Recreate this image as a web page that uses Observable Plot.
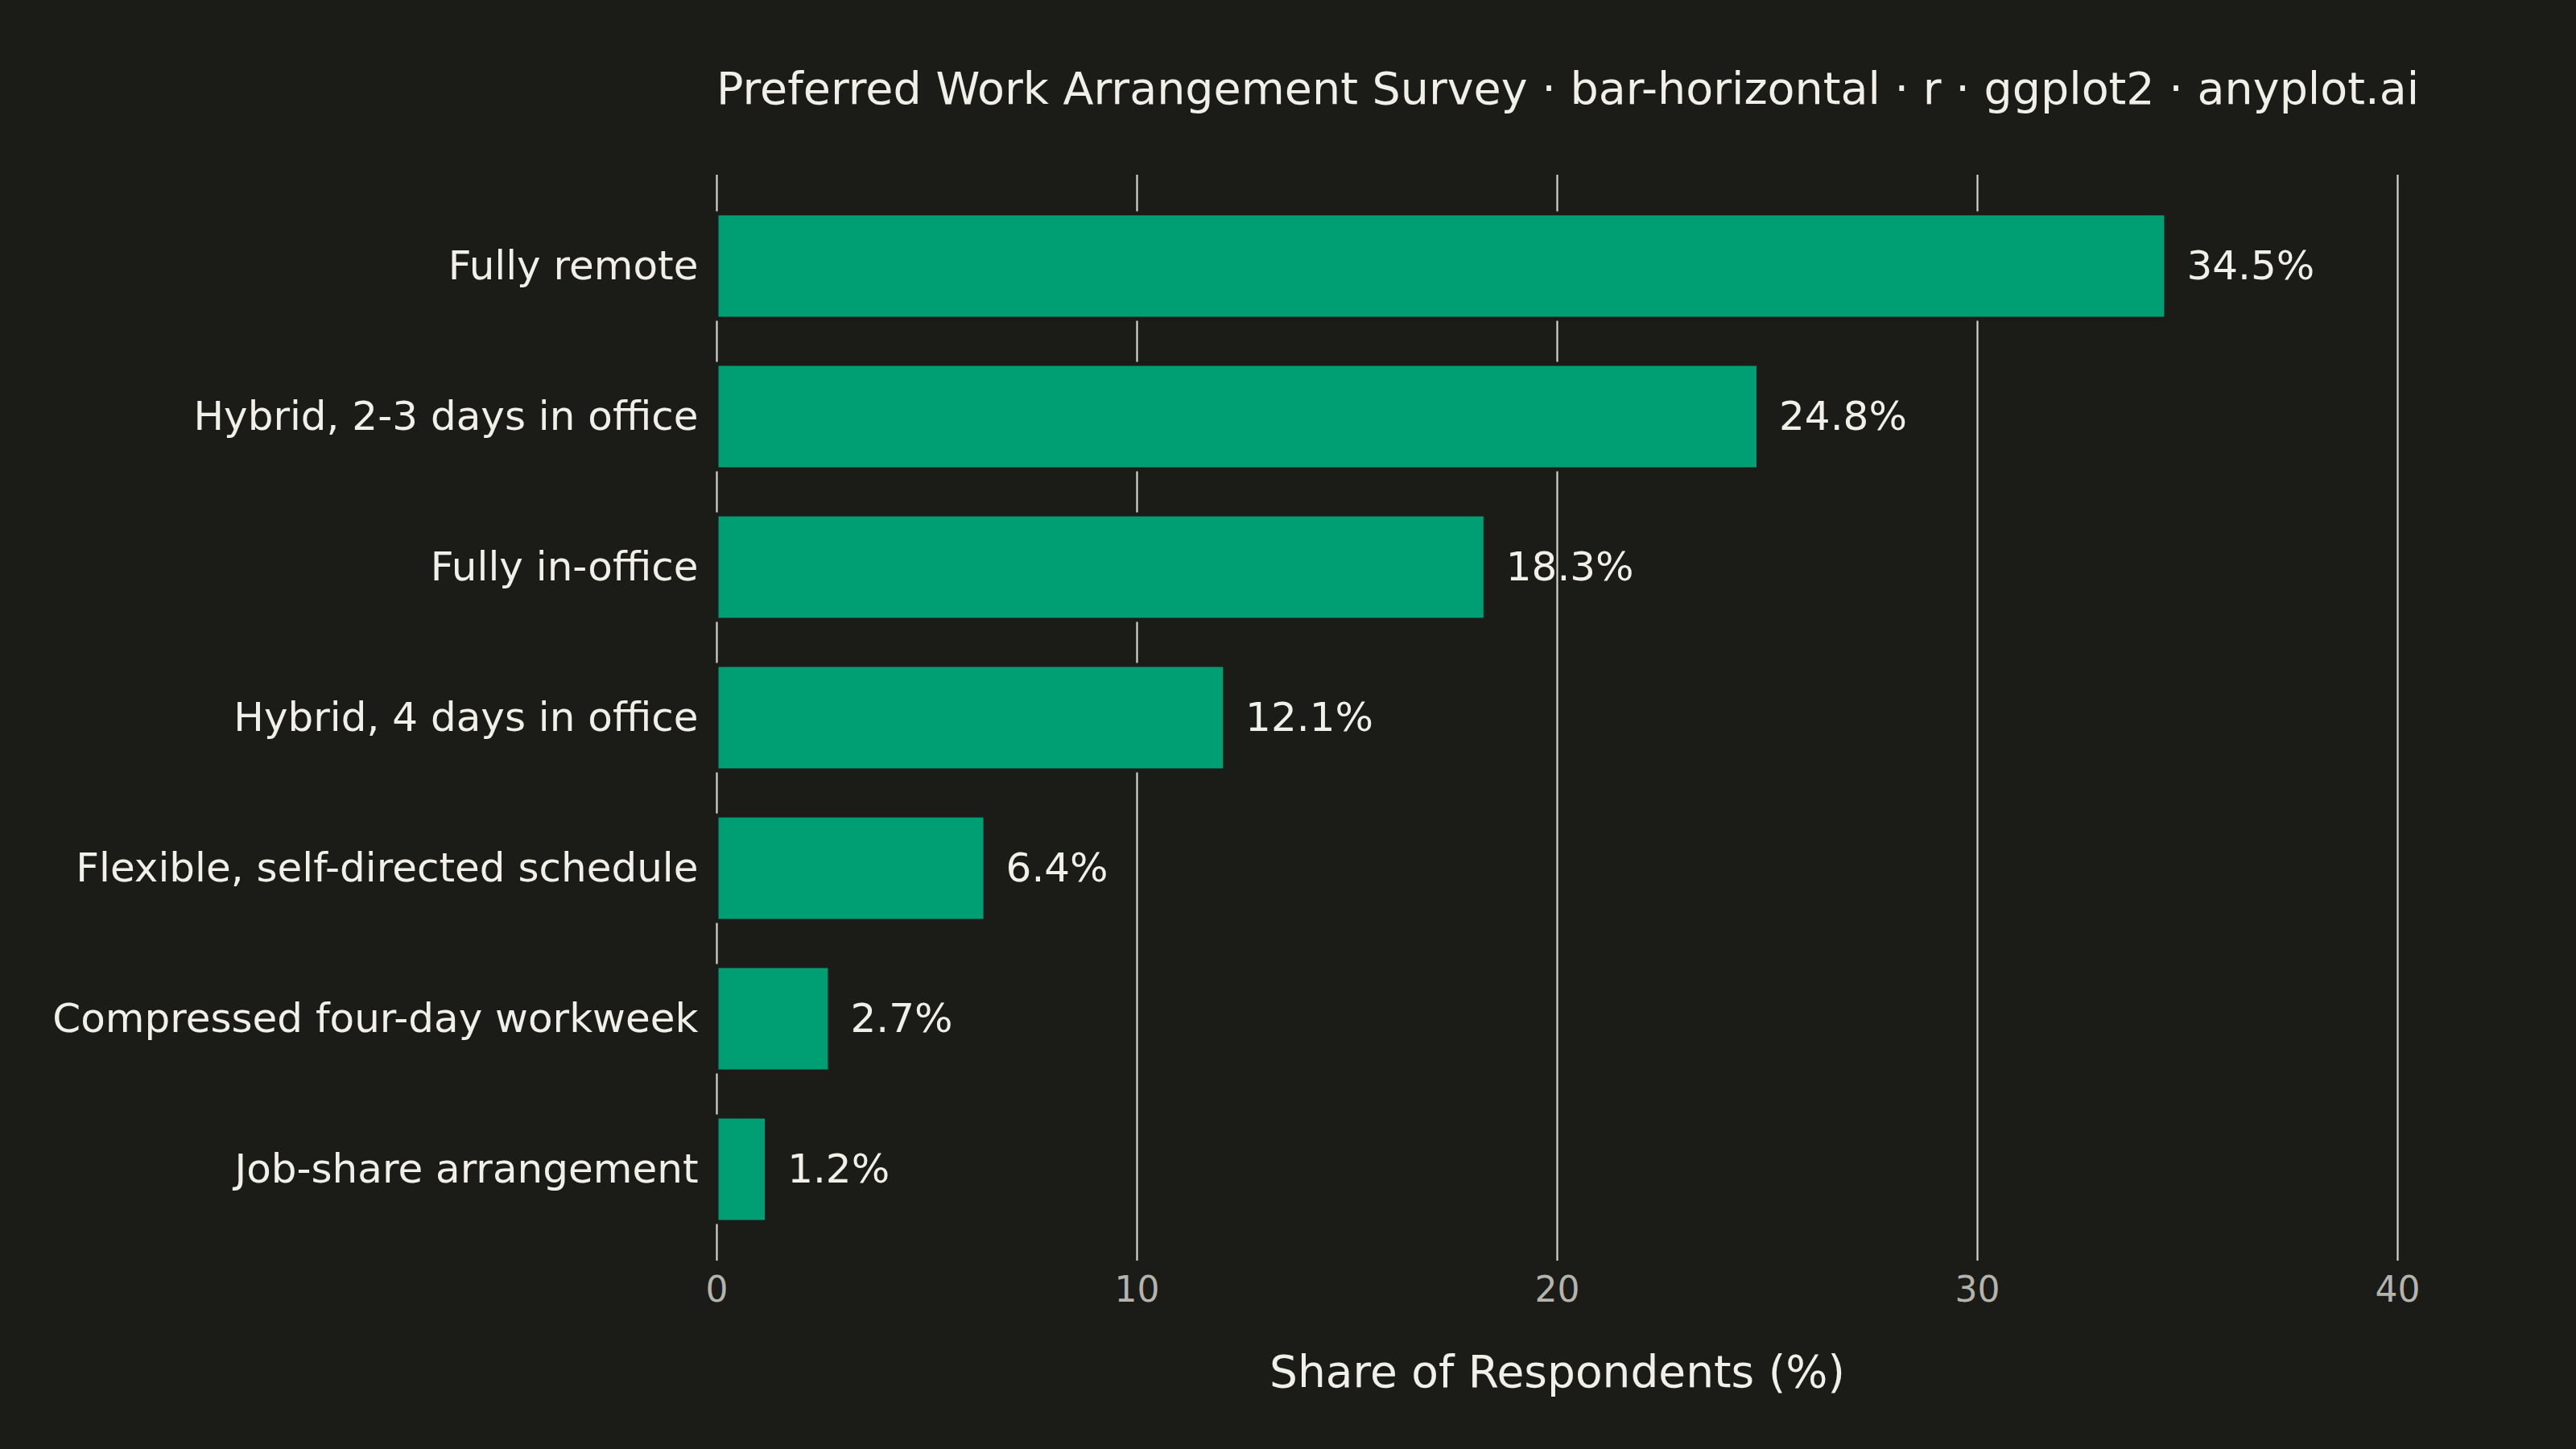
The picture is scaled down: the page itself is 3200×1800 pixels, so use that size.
<!DOCTYPE html>
<html>
<head>
<meta charset="utf-8">
<script src="https://cdn.jsdelivr.net/npm/d3@7"></script>
<script src="https://cdn.jsdelivr.net/npm/@observablehq/plot@0.6"></script>
<style>
  html, body { margin: 0; padding: 0; background: #1b1b18; }
  #wrap { width: 3200px; height: 1800px; background: #1b1b18; position: relative; overflow: hidden; }
  #title { position: absolute; left: 890px; top: 82px; font-family: "DejaVu Sans", sans-serif; font-size: 55.5px; line-height: 55.5px; color: #F0EFE8; white-space: nowrap; }
  #chart { position: absolute; left: 0; top: 180px; }
</style>
</head>
<body>
<div id="wrap">
  <div id="title">Preferred Work Arrangement Survey · bar-horizontal · r · ggplot2 · anyplot.ai</div>
  <div id="chart"></div>
</div>
<script>
const categories = [
  "Fully remote",
  "Hybrid, 2-3 days in office",
  "Fully in-office",
  "Hybrid, 4 days in office",
  "Flexible, self-directed schedule",
  "Compressed four-day workweek",
  "Job-share arrangement"
];
const shares = [34.5, 24.8, 18.3, 12.1, 6.4, 2.7, 1.2];
const xTicks = [0, 10, 20, 30, 40];
const xLabel = "Share of Respondents (%)";

const data = categories.map((c, i) => ({category: c, value: shares[i]}));

const bg = "#1b1b18";
const ink = "#F0EFE8";
const muted = "#B5B4AC";

const plot = Plot.plot({
  width: 3200,
  height: 1620,
  marginTop: 37,
  marginBottom: 234,
  marginLeft: 890,
  marginRight: 222,
  style: {background: bg, color: ink, fontFamily: "DejaVu Sans, sans-serif"},
  x: {domain: [0, 40]},
  y: {domain: categories, paddingInner: 0.3, paddingOuter: 0.25, align: 0.5},
  marks: [
    Plot.ruleX(xTicks, {stroke: "#d6d6ce", strokeWidth: 2.2}),
    Plot.barX(data, {x: "value", y: "category", fill: "#009E73", stroke: bg, strokeWidth: 5}),
    Plot.text(data, {x: "value", y: "category", text: d => d.value.toFixed(1) + "%", dx: 25, textAnchor: "start", lineAnchor: "middle", fontSize: 50, fill: ink}),
    Plot.axisY({tickSize: 0, tickPadding: 23, fontSize: 50, label: null, color: ink}),
    Plot.axisX({ticks: xTicks, tickSize: 0, tickPadding: 19, fontSize: 44, label: null, color: muted}),
    Plot.text([xLabel], {frameAnchor: "bottom", dy: 139, lineAnchor: "middle", fontSize: 55, fill: ink, text: d => d})
  ]
});
document.getElementById("chart").appendChild(plot);
</script>
</body>
</html>
